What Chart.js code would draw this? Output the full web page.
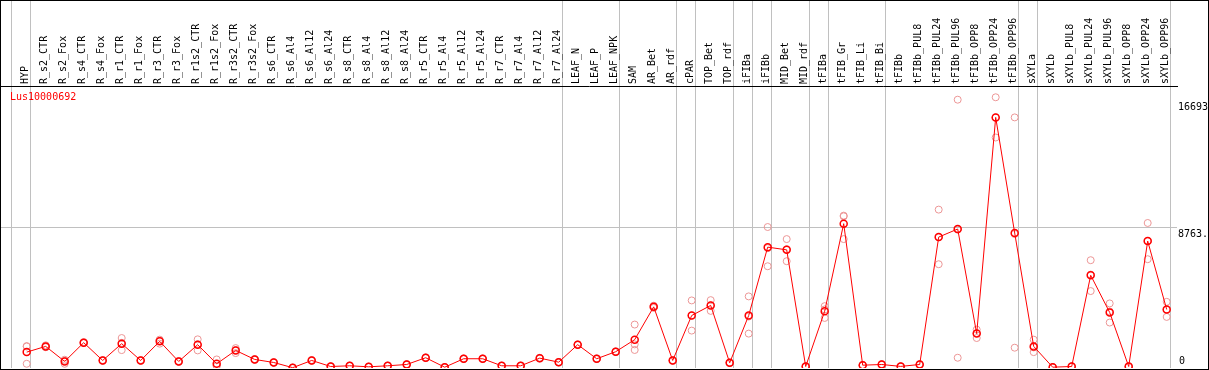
<!DOCTYPE html>
<html>
<head>
<meta charset="utf-8">
<title>Lus10000692</title>
<script src="https://cdn.jsdelivr.net/npm/chart.js@4/dist/chart.umd.min.js"></script>
<style>
    body { margin: 0; background: #fff; }
    #frame { position: relative; width: 1209px; height: 370px; box-sizing: border-box; border: 1px solid #000; }
    #chart { position: absolute; left: 0; top: 0; width: 1207px; height: 368px; }
    #title { position: absolute; left: 9px; top: 90px; font: 10px "DejaVu Sans Mono", monospace; color: #ff0000; }
</style>
</head>
<body>
<div id="frame">
    <canvas id="chart" width="1207" height="368"></canvas>
    <div id="title">Lus10000692</div>
</div>
<script>
const categories = [
    'HYP', 'R_s2_CTR', 'R_s2_Fox', 'R_s4_CTR', 'R_s4_Fox', 'R_r1_CTR', 'R_r1_Fox', 'R_r3_CTR', 'R_r3_Fox',
    'R_r1s2_CTR', 'R_r1s2_Fox', 'R_r3s2_CTR', 'R_r3s2_Fox', 'R_s6_CTR', 'R_s6_Al4', 'R_s6_Al12', 'R_s6_Al24',
    'R_s8_CTR', 'R_s8_Al4', 'R_s8_Al12', 'R_s8_Al24', 'R_r5_CTR', 'R_r5_Al4', 'R_r5_Al12', 'R_r5_Al24',
    'R_r7_CTR', 'R_r7_Al4', 'R_r7_Al12', 'R_r7_Al24', 'LEAF_N', 'LEAF_P', 'LEAF_NPK', 'SAM', 'AR_Bet', 'AR_rdf',
    'cPAR', 'TOP_Bet', 'TOP_rdf', 'iFIBa', 'iFIBb', 'MID_Bet', 'MID_rdf', 'tFIBa', 'tFIB_Gr', 'tFIB_Li', 'tFIB_Bi',
    'tFIBb', 'tFIBb_PUL8', 'tFIBb_PUL24', 'tFIBb_PUL96', 'tFIBb_OPP8', 'tFIBb_OPP24', 'tFIBb_OPP96',
    'sXYLa', 'sXYLb', 'sXYLb_PUL8', 'sXYLb_PUL24', 'sXYLb_PUL96', 'sXYLb_OPP8', 'sXYLb_OPP24', 'sXYLb_OPP96'
];

// mean expression per sample
const meanValues = [
    994, 1353, 409, 1586, 472, 1523, 472, 1668, 409, 1460, 264, 1101, 535, 346, 20, 472, 94,
    138, 75, 138, 220, 642, 50, 579, 579, 138, 138, 617, 365, 1460, 579, 1020, 1775, 3827, 472,
    3285, 3915, 327, 3285, 7565, 7395, 94, 3556, 9032, 176, 220, 100, 220, 8195, 8698, 2152, 15685, 8447,
    1353, 50, 94, 5803, 3474, 94, 7943, 3663
];

// the three replicates
const rep1 = [
    1372, 1420, 516, 1620, 500, 1876, 500, 1775, 440, 1794, 535, 1246, 560, 370, 30, 500, 110,
    150, 90, 150, 240, 660, 60, 600, 600, 150, 150, 640, 380, 1480, 600, 1040, 2719, 3900, 490,
    4229, 4248, 340, 4481, 8824, 8069, 110, 3871, 9535, 190, 240, 110, 240, 9913, 16793, 2404, 16944, 15685,
    1775, 60, 110, 6747, 4041, 110, 9076, 4141
];
const rep2 = [
    1346, 1300, 264, 1560, 450, 1120, 450, 1523, 390, 1101, 138, 932, 510, 330, 10, 450, 80,
    130, 60, 130, 200, 620, 40, 560, 560, 130, 130, 600, 350, 1440, 560, 1000, 1479, 3760, 450,
    2341, 3575, 310, 2152, 6369, 6684, 80, 3134, 8069, 160, 200, 90, 200, 6495, 642, 1876, 14426, 1271,
    994, 40, 80, 4815, 2845, 80, 6810, 3197
];
const rep3 = [
    264, 1340, 447, 1578, 466, 1573, 466, 1706, 397, 1485, 119, 1125, 535, 338, 20, 466, 92,
    134, 75, 134, 220, 646, 50, 577, 577, 134, 134, 611, 365, 1460, 577, 1020, 1127, 3821, 476,
    3285, 3922, 331, 3222, 7502, 7432, 92, 3663, 9492, 178, 220, 100, 220, 8177, 8659, 2176, 15685, 8385,
    1290, 50, 92, 5847, 3536, 92, 7943, 3651
];

// indexes after which a grey separator line is drawn
const groupEnds = [-1, 0, 28, 31, 34, 35, 37, 38, 39, 41, 42, 45, 52, 53, 60];

const yTicks = [0, 8763, 16693];
const yTickLabels = ['0', '8763.', '16693'];
const yMax = 17650;

const monoFont = '"DejaVu Sans Mono", monospace';

function toPoints(values) {
    return values.map((v, i) => ({ x: i, y: v }));
}

function replicateSet(values) {
    return {
        data: toPoints(values),
        showLine: false,
        pointRadius: 3.5,
        pointBorderWidth: 1,
        pointBorderColor: 'rgb(236,150,150)',
        pointBackgroundColor: 'rgba(0,0,0,0)',
        order: 1
    };
}

// no extra side padding for the rotated labels
function fitTop(height) {
    return (scale) => {
        scale.height = height;
        scale.paddingLeft = 0;
        scale.paddingRight = 0;
    };
}

// value labels on the right side, inside the frame
const yLabelPlugin = {
    id: 'yLabels',
    afterDraw(chart) {
        const scale = chart.scales.y;
        const ctx = chart.ctx;
        ctx.save();
        ctx.font = '10px ' + monoFont;
        ctx.fillStyle = '#000';
        ctx.textAlign = 'left';
        ctx.textBaseline = 'alphabetic';
        yTicks.forEach((v, i) => {
            const py = scale.getPixelForValue(v);
            if (v === 0) {
                ctx.fillText(yTickLabels[i], scale.left + 2, py - 4);
            } else {
                ctx.fillText(yTickLabels[i], scale.left + 1, py + 9);
            }
        });
        ctx.restore();
    }
};

const xMin = -1.3526;
const xMax = 60.542;

const ctx = document.getElementById('chart').getContext('2d');
new Chart(ctx, {
    type: 'line',
    data: {
        datasets: [
            {
                data: toPoints(meanValues),
                borderColor: '#ff0000',
                borderWidth: 1,
                tension: 0,
                pointRadius: 3.5,
                pointBorderWidth: 1.5,
                pointBorderColor: '#ff0000',
                pointBackgroundColor: 'rgba(0,0,0,0)',
                order: 0
            },
            replicateSet(rep1),
            replicateSet(rep2),
            replicateSet(rep3)
        ]
    },
    options: {
        responsive: false,
        animation: false,
        layout: { autoPadding: false, padding: { left: 0, right: 0, top: 0, bottom: 1 } },
        plugins: {
            legend: { display: false },
            tooltip: { enabled: false }
        },
        scales: {
            x: {
                type: 'linear',
                position: 'top',
                weight: 1,
                min: xMin,
                max: xMax,
                afterBuildTicks: (scale) => {
                    scale.ticks = categories.map((c, i) => ({ value: i }));
                },
                afterFit: fitTop(85),
                ticks: {
                    autoSkip: false,
                    minRotation: 90,
                    maxRotation: 90,
                    padding: 2,
                    labelOffset: 11,
                    color: '#000',
                    font: { family: monoFont, size: 10 },
                    callback: (value) => categories[Math.round(value)]
                },
                grid: { display: true, color: 'rgba(0,0,0,0)', drawTicks: false },
                border: { display: true, color: '#000', width: 1 }
            },
            groups: {
                type: 'linear',
                position: 'top',
                weight: 0,
                min: xMin,
                max: xMax,
                afterBuildTicks: (scale) => {
                    scale.ticks = groupEnds.map(g => ({ value: g + 0.21 }));
                },
                afterFit: fitTop(0),
                ticks: { display: false },
                grid: { color: '#c0c0c0', lineWidth: 1, drawTicks: true, tickLength: 85 },
                border: { display: false }
            },
            y: {
                type: 'linear',
                position: 'right',
                min: 0,
                max: yMax,
                afterBuildTicks: (scale) => {
                    scale.ticks = yTicks.map(v => ({ value: v }));
                },
                afterFit: (scale) => { scale.width = 31; },
                ticks: { display: false },
                grid: {
                    drawTicks: false,
                    color: (c) => (c.tick && c.tick.value === 8763) ? '#c0c0c0' : 'rgba(0,0,0,0)'
                },
                border: { display: false }
            }
        }
    },
    plugins: [yLabelPlugin]
});
</script>
</body>
</html>
